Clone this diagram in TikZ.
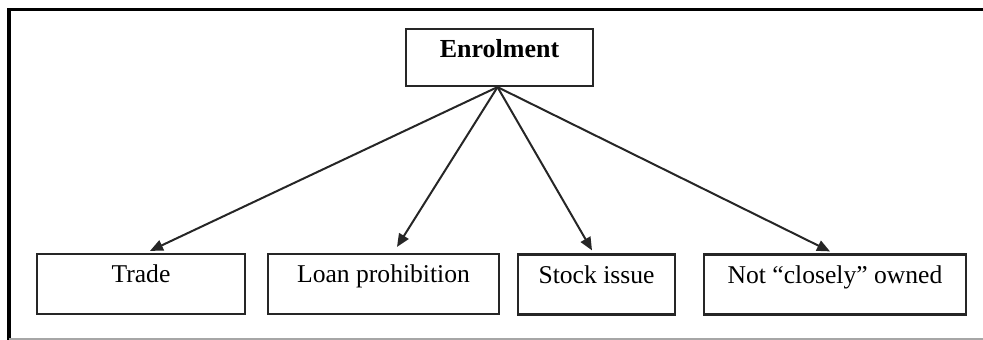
\documentclass[tikz,border=0pt]{standalone}
\usepackage{fontspec}
\setmainfont{Liberation Serif}
\usetikzlibrary{arrows.meta}

\begin{document}
\begin{tikzpicture}[x=0.5pt,y=-0.5pt,
  box/.style={draw=black!85,line width=1.1pt,inner xsep=0pt,inner ysep=0pt,text height=14.5pt,text depth=15.5pt,font=\fontsize{12.8}{15}\selectfont},
  link/.style={draw=black!85,line width=1pt,-{Triangle[length=6.5pt,width=5.5pt]}}]
\useasboundingbox (0,0) rectangle (983,340);
% outer frame
\draw[line width=1.6pt] (9,340) -- (9,9.5) -- (983,9.5);
\draw[black!35,line width=0.6pt] (9,339) -- (983,339);
% top box
\node[box,minimum width=93.5pt,text depth=14pt,font=\fontsize{13}{15}\selectfont\bfseries] (enrol) at (499.5,57.5) {Enrolment};
% bottom boxes
\node[box,minimum width=104pt] (trade) at (141,284) {Trade};
\node[box,minimum width=115.5pt] (loan) at (383.5,284) {Loan prohibition};
\node[box,minimum width=78.5pt] (stock) at (596.5,284.5) {Stock issue};
\node[box,minimum width=131pt] (owned) at (835,284.5) {Not “closely” owned};
% arrows
\draw[link] ([xshift=-1pt]enrol.south) -- ([xshift=4.5pt,yshift=1pt]trade.north);
\draw[link] ([xshift=-1pt]enrol.south) -- ([xshift=6.75pt,yshift=3pt]loan.north);
\draw[link] ([xshift=-1pt]enrol.south) -- ([xshift=-2.25pt,yshift=1.5pt]stock.north);
\draw[link] ([xshift=-1pt]enrol.south) -- ([xshift=-2.5pt,yshift=1pt]owned.north);
\end{tikzpicture}
\end{document}
